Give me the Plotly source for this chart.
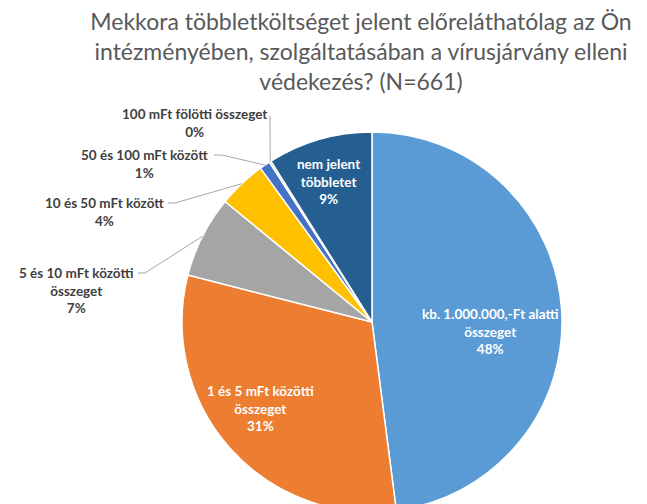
import math
import plotly.graph_objects as go

# ---- data ----
categories = [
    "kb. 1.000.000,-Ft alatti összeget",
    "1 és 5 mFt közötti összeget",
    "5 és 10 mFt közötti összeget",
    "10 és 50 mFt között",
    "50 és 100 mFt között",
    "100 mFt fölötti összeget",
    "nem jelent többletet",
]
display_labels = [
    "kb. 1.000.000,-Ft alatti<br>összeget",
    "1 és 5 mFt közötti<br>összeget",
    "5 és 10 mFt közötti<br>összeget",
    "10 és 50 mFt között",
    "50 és 100 mFt között",
    "100 mFt fölötti összeget",
    "nem jelent<br>többletet",
]
counts = [317, 205, 46, 27, 6, 1, 59]
title_text = ("Mekkora többletköltséget jelent előreláthatólag az Ön<br>"
              "intézményében, szolgáltatásában a vírusjárvány elleni<br>"
              "védekezés? (N=661)")

# ---- styles / layout ----
colors = ["#5B9BD5", "#ED7D31", "#A5A5A5", "#FFC000", "#4472C4", "#70AD47", "#255E91"]
W, H = 647, 504
CX, CY, R = 364, 314, 190  # pie geometry in pixels
FONT = "Lato"

# label block centres (pixels) and whether inside
label_pos = [(482, 323), (252, 400), (68, 282), (96, 204), (136, 156), (186, 115), (320, 173)]
inside = [True, True, False, False, False, False, True]
# leader line start (pixels) for outside labels: (x, y, horizontal run)
leader_start = {2: (130, 265, 7), 3: (160, 195, 7), 4: (206, 147, 8), 5: (262, 108, 0)}


def px(x):
    return x / W


def py(y):
    return (H - y) / H


fig = go.Figure(go.Pie(
    labels=categories,
    values=counts,
    sort=False,
    direction="clockwise",
    rotation=0,
    textinfo="none",
    marker=dict(colors=colors, line=dict(color="white", width=1.5)),
    domain=dict(x=[px(CX - R), px(CX + R)], y=[py(CY + R), py(CY - R)]),
    showlegend=False,
))

total = sum(counts)
annotations = []
shapes = []
cum = 0
for i, (lab, v) in enumerate(zip(display_labels, counts)):
    frac = v / total
    mid = (cum + frac / 2) * 2 * math.pi
    cum += frac
    pct = round(frac * 100)
    lx, ly = label_pos[i]
    annotations.append(dict(
        x=px(lx), y=py(ly), xref="paper", yref="paper",
        text=f"<b>{lab}<br>{pct}%</b>", showarrow=False,
        xanchor="center", yanchor="middle", align="center",
        font=dict(family=FONT, size=13.5, color="white" if inside[i] else "#404040"),
    ))
    if i in leader_start:
        sx, sy, run = leader_start[i]
        ex = CX + R * math.sin(mid)
        ey = CY - R * math.cos(mid)
        path = f"M {px(sx)} {py(sy)} L {px(sx + run)} {py(sy)} L {px(ex)} {py(ey)}"
        shapes.append(dict(type="path", xref="paper", yref="paper", path=path,
                           line=dict(color="#A6A6A6", width=1)))

fig.update_layout(
    width=W, height=H,
    margin=dict(l=0, r=0, t=0, b=0),
    paper_bgcolor="white", plot_bgcolor="white",
    title=dict(text=title_text, x=353 / W, xanchor="center", y=1 - 22 / H, yanchor="middle",
               yref="container", font=dict(family=FONT, size=23, color="#595959")),
    annotations=annotations,
    shapes=shapes,
)

fig.write_html("out.html")
